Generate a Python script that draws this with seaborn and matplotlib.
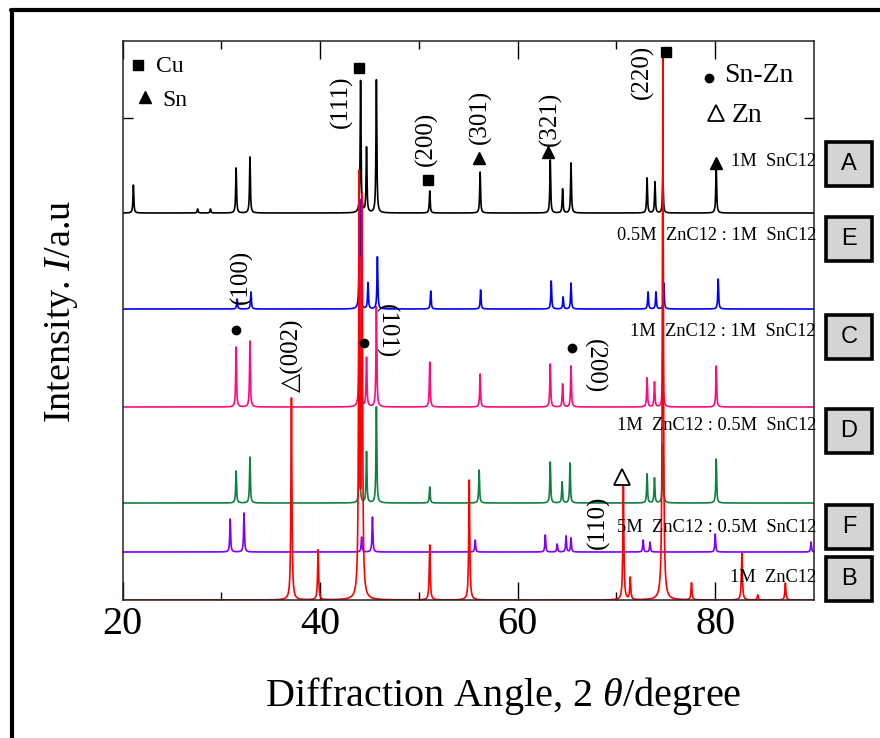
import matplotlib
matplotlib.use('Agg')
import matplotlib.pyplot as plt
from matplotlib.patches import Rectangle
from matplotlib.lines import Line2D
import numpy as np
import pandas as pd
import seaborn as sns

# peak positions (2theta, deg) and heights
a_pos = [21.1, 27.6, 28.9, 31.5, 32.9, 44.1, 44.7, 45.7, 51.1, 56.2, 63.3, 64.55, 65.4, 73.1, 73.9, 74.7, 80.1]
a_h = [28, 4, 4, 45, 56, 132, 65, 133, 22, 41, 53, 24, 50, 35, 31, 36, 48]
e_pos = [31.6, 33.0, 44.0, 44.85, 45.8, 51.2, 56.25, 63.4, 64.6, 65.4, 73.2, 74.0, 74.8, 80.3]
e_h = [10, 17, 110, 26, 52, 18, 19, 28, 12, 26, 17, 17, 26, 30]
c_pos = [31.5, 32.9, 44.0, 44.7, 45.7, 51.1, 56.2, 63.3, 64.55, 65.4, 73.1, 73.85, 74.7, 80.1]
c_h = [60, 66, 150, 49, 100, 45, 33, 43, 23, 41, 29, 25, 67, 41]
d_pos = [31.5, 32.9, 44.0, 44.7, 45.7, 51.1, 56.1, 63.3, 64.5, 65.3, 73.1, 73.85, 74.7, 80.1]
d_h = [32, 46, 70, 51, 96, 16, 33, 41, 21, 40, 29, 25, 58, 44]
f_pos = [30.9, 32.3, 44.2, 45.3, 55.7, 62.8, 64.0, 64.9, 65.4, 72.7, 73.4, 80.0, 89.7]
f_h = [33, 39, 15, 35, 12, 17, 8, 16, 14, 12, 10, 18, 10]
b_pos = [37.1, 39.8, 43.95, 44.25, 51.1, 55.1, 70.7, 71.4, 74.7, 77.6, 82.7, 84.3, 87.1]
b_h = [202, 50, 415, 390, 55, 120, 115, 22, 545, 17, 47, 5, 17]

samples = ['A', 'E', 'C', 'D', 'F', 'B']
offsets = [387, 291, 193, 97, 48, 0]
widths = [0.05, 0.05, 0.05, 0.05, 0.05, 0.06]
colors = ['#000000', '#0000ff', '#ff0a80', '#0e8040', '#8000ff', '#ff0000']
sample_text = ['1M  SnC12', '0.5M  ZnC12 : 1M  SnC12', '1M  ZnC12 : 1M  SnC12',
               '1M  ZnC12 : 0.5M  SnC12', '5M  ZnC12 : 0.5M  SnC12', '1M  ZnC12']
peaks = [(a_pos, a_h), (e_pos, e_h), (c_pos, c_h), (d_pos, d_h), (f_pos, f_h), (b_pos, b_h)]

# phase markers: (2theta, height)
cu_marks = [(43.95, 532), (50.92, 420), (75.0, 548)]
sn_marks = [(56.08, 442), (63.06, 448), (80.07, 437)]
snzn_marks = [(31.5, 270), (44.45, 257), (65.46, 252)]
zn_marks = [(70.6, 123)]

# miller index labels: text, 2theta, height, rotation
hkl = [('(111)', 42.2, 498, 90), ('(200)', 50.8, 461, 90), ('(301)', 56.2, 483, 90),
       ('(321)', 63.3, 481, 90), ('(220)', 72.6, 528, 90), ('(100)', 32.0, 323, 90),
       ('\u25b3(002)', 37.2, 245, 90), ('(101)', 46.7, 269, 270),
       ('(200)', 67.8, 234, 270), ('(110)', 68.2, 78, 90)]

angle = np.arange(20, 90.001, 0.01)
frames = []
for s, off, w, (pos, hts) in zip(samples, offsets, widths, peaks):
    y = np.full_like(angle, off, dtype=float)
    for p, h in zip(pos, hts):
        y += h / (1 + ((angle - p) / w) ** 2)
    frames.append(pd.DataFrame({'angle': angle, 'intensity': y, 'sample': s}))
df = pd.concat(frames, ignore_index=True)

sns.set_style('ticks')
plt.rcParams['font.family'] = ['Liberation Serif', 'DejaVu Serif']
plt.rcParams['mathtext.fontset'] = 'custom'
plt.rcParams['mathtext.rm'] = 'Liberation Serif'
plt.rcParams['mathtext.it'] = 'Liberation Serif:italic'
plt.rcParams['text.color'] = 'black'
plt.rcParams['axes.labelcolor'] = 'black'
plt.rcParams['xtick.color'] = 'black'
plt.rcParams['ytick.color'] = 'black'

fig = plt.figure(figsize=(8.8, 7.38), dpi=100)
ax = fig.add_axes([122.5 / 880, 1 - 600 / 738, 691.5 / 880, 559 / 738])

sns.lineplot(data=df, x='angle', y='intensity', hue='sample', hue_order=samples,
             palette=colors, estimator=None, sort=False, linewidth=1.2,
             legend=False, ax=ax)

ax.set_xlim(20, 90)
ax.set_ylim(0, 559)
ax.set_xticks([20, 40, 60, 80])
ax.set_xticks([30, 50, 70], minor=True)
ax.set_yticks([482])
ax.set_yticklabels([])
ax.tick_params(axis='x', which='major', direction='in', top=True, length=13, width=1,
               labelsize=29, pad=4, colors='black')
ax.tick_params(axis='x', which='minor', direction='in', top=True, length=6, width=1)
ax.tick_params(axis='y', direction='in', right=True, length=7, width=1)
for sp in ax.spines.values():
    sp.set_linewidth(1.1)
    sp.set_color('#222222')

ax.set_xlabel(r'Diffraction Angle, 2 $\theta$/degree', fontsize=29)
ax.xaxis.set_label_coords(0.55, -0.135)
ax.set_ylabel(r'Intensity. $I$/a.u', fontsize=27.5)
ax.yaxis.set_label_coords(-0.062, 0.517)

# phase markers
ax.plot(*zip(*cu_marks), 's', color='black', ms=7, ls='none')
ax.plot(*zip(*sn_marks), '^', color='black', ms=8, ls='none')
ax.plot(*zip(*snzn_marks), 'o', color='black', ms=6, ls='none')
ax.plot(*zip(*zn_marks), '^', mfc='white', mec='black', mew=1.3, ms=11, ls='none')

# symbol key
ax.plot([21.57], [535], 's', color='black', ms=7)
ax.plot([22.3], [503], '^', color='black', ms=8)
ax.text(23.4, 534, 'Cu', fontsize=17, va='center')
ax.text(24.0, 500, 'Sn', fontsize=17, va='center')
ax.plot([79.35], [522], 'o', color='black', ms=6)
ax.plot([80.07], [487], '^', mfc='white', mec='black', mew=1.3, ms=11)
ax.text(80.9, 524, 'Sn-Zn', fontsize=20, va='center')
ax.text(81.7, 484, 'Zn', fontsize=20, va='center')

for txt, x, y, rot in hkl:
    ax.text(x, y, txt, fontsize=18, rotation=rot, ha='center', va='center')

# sample captions and boxed letters
label_y = [438, 365, 268, 175, 73, 23]
box_y = [164, 239, 337, 431, 527, 579]
for s, txt, ly, by in zip(samples, sample_text, label_y, box_y):
    ax.text(90.2, ly, txt, fontsize=13.2, ha='right', va='center', clip_on=False)
    cx, cy = 849 / 880, 1 - by / 738
    fig.add_artist(Rectangle((cx - 23 / 880, cy - 22 / 738), 46 / 880, 44 / 738,
                             transform=fig.transFigure, facecolor='#d4d4d4',
                             edgecolor='black', linewidth=2.6))
    fig.text(cx, cy, s, fontsize=17, family='Liberation Sans', ha='center', va='center')

# frame lines of the original panel
fig.add_artist(Line2D([12 / 880, 12 / 880], [0, 1 - 10 / 738], transform=fig.transFigure,
                      color='black', linewidth=3))
fig.add_artist(Line2D([10.5 / 880, 1], [1 - 10 / 738, 1 - 10 / 738], transform=fig.transFigure,
                      color='black', linewidth=3))

fig.savefig('out.png', dpi=100)
